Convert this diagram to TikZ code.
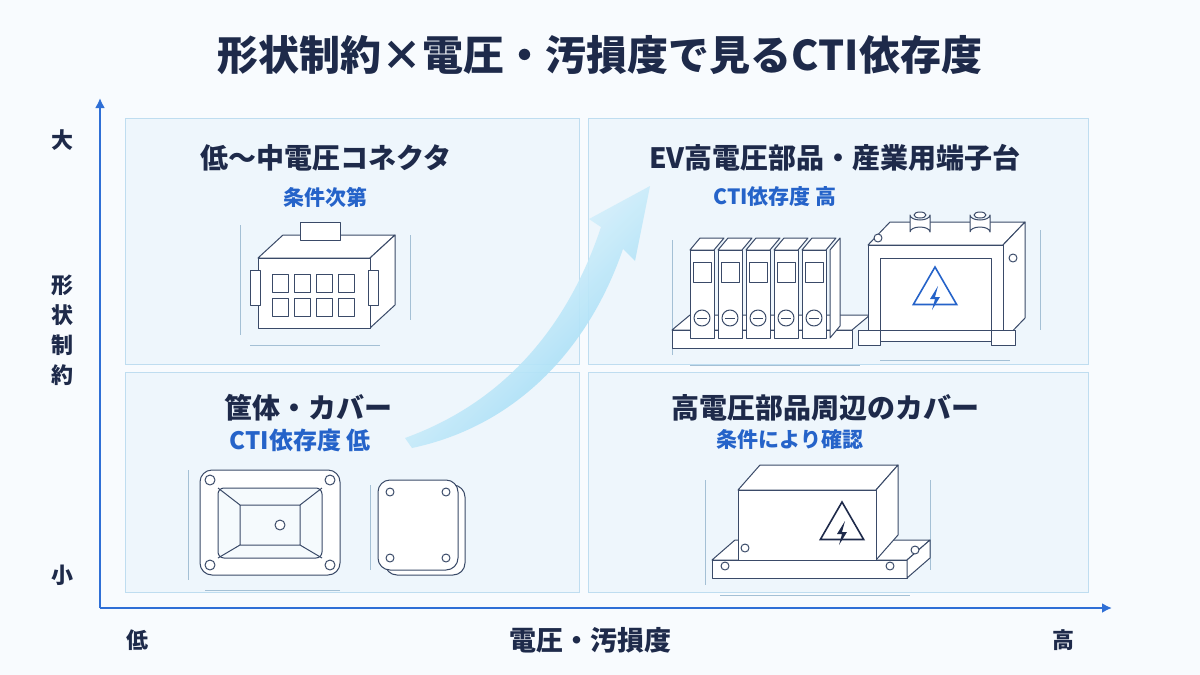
\documentclass[tikz,border=0pt]{standalone}
\usepackage{fontspec}
\setmainfont{Noto Sans CJK JP}
\usetikzlibrary{arrows.meta,shapes.geometric}
\definecolor{navy}{HTML}{1E2A4A}
\definecolor{sblue}{HTML}{2563C9}
\definecolor{axc}{HTML}{2F6FD6}
\definecolor{qfill}{HTML}{EEF6FC}
\definecolor{qdraw}{HTML}{BFDDF0}
\definecolor{ink}{HTML}{3A4A68}
\definecolor{bg}{HTML}{F8FBFE}
\definecolor{arr}{HTML}{8FD6F4}
\begin{document}
\begin{tikzpicture}[x=0.5pt,y=-0.5pt,
  quad/.style={draw=qdraw,fill=qfill,line width=0.6pt},
  ttl/.style={text=navy,font=\fontsize{14}{16}\selectfont\bfseries},
  sub/.style={text=sblue,font=\fontsize{10.5}{12}\selectfont\bfseries},
  axl/.style={text=navy,font=\fontsize{11}{13}\selectfont\bfseries},
  ax/.style={draw=axc,line width=1.2pt,-{Latex[length=5pt,width=5pt]}},
  ill/.style={draw=ink,line width=0.5pt,fill=white,line join=round},
  iln/.style={draw=ink,line width=0.5pt,line join=round},
  dim/.style={draw=qdraw!80!ink,line width=0.3pt},
  bolt/.pic={\fill[#1] (3,-12) -- (-5,1) -- (0,1) -- (-3,12) -- (5,-1) -- (0,-1) -- cycle;}]
\useasboundingbox (0,0) rectangle (1200,675);
\fill[bg] (0,0) rectangle (1200,675);
% title
\node[text=navy,font=\fontsize{20.5}{24}\selectfont\bfseries] (title) at (600,55) {形状制約×電圧・汚損度で見るCTI依存度};
% quadrants
\node[quad,minimum width=227pt,minimum height=123pt,anchor=north west] (q1) at (125,118) {};
\node[quad,minimum width=250pt,minimum height=123pt,anchor=north west] (q2) at (588,118) {};
\node[quad,minimum width=227pt,minimum height=110pt,anchor=north west] (q3) at (125,372) {};
\node[quad,minimum width=250pt,minimum height=110pt,anchor=north west] (q4) at (588,372) {};
% axes
\coordinate (o) at (100,608);
\coordinate (yt) at (100,98);
\coordinate (xe) at (1112,608);
\draw[ax] (o) -- (yt);
\draw[ax] (o) -- (xe);
\node[axl] (big) at (62,140) {大};
\node[axl] (small) at (62,575) {小};
\node[axl,align=center,font=\fontsize{11}{15}\selectfont\bfseries] (ylab) at (62,330) {形\\状\\制\\約};
\node[axl] (lo) at (137,640) {低};
\node[axl] (hi) at (1063,640) {高};
\node[axl,font=\fontsize{13.5}{15}\selectfont\bfseries] (xlab) at (590,640) {電圧・汚損度};
% big arrow
\shade[left color=white,right color=arr,opacity=0.9,shading angle=45]
 (405,438) .. controls (510,400) and (570,320) .. (601,227) -- (589,219) -- (650,186) -- (635,261) -- (623,249) .. controls (590,345) and (520,425) .. (412,448) -- cycle;
% quadrant texts
\node[ttl] (t1) at (326,158) {低〜中電圧コネクタ};
\node[sub] (s1) at (325,197) {条件次第};
\node[ttl] (t2) at (835,158) {EV高電圧部品・産業用端子台};
\node[sub] (s2) at (775,197) {CTI依存度 高};
\node[ttl] (t3) at (308,408) {筐体・カバー};
\node[sub,font=\fontsize{12}{14}\selectfont\bfseries] (s3) at (300,440) {CTI依存度 低};
\node[ttl] (t4) at (825,408) {高電圧部品周辺のカバー};
\node[sub] (s4) at (790,440) {条件により確認};
% ---- connector (TL)
\draw[dim] (240,225)--(240,335) (410,235)--(410,320) (250,345)--(380,345);
\draw[ill] (258,258) -- (283,235) -- (395,235) -- (370,258) -- cycle;
\draw[ill] (370,258) -- (395,235) -- (395,305) -- (370,328) -- cycle;
\draw[ill] (258,258) rectangle (370,328);
\draw[ill] (300,222) rectangle (340,240);
\draw[ill] (250,270) rectangle (260,305) (368,270) rectangle (378,305);
\foreach \i in {0,1,2,3}{\foreach \j in {0,1}{
  \draw[ill] (272+\i*22,274+\j*24) rectangle (288+\i*22,292+\j*24);}}
% ---- terminal block (TR)
\draw[dim] (672,240)--(672,355) (690,365)--(860,365);
\draw[ill] (672,330) -- (690,315) -- (870,315) -- (852,330) -- cycle;
\draw[ill] (672,330) rectangle (852,348);
\foreach \i in {0,...,4}{
  \draw[ill] (690+\i*28,250) -- (700+\i*28,238) -- (724+\i*28,238) -- (714+\i*28,250) -- cycle;
  \draw[ill] (690+\i*28,250) rectangle (714+\i*28,338);
  \draw[ill] (693+\i*28,262) rectangle (711+\i*28,282);
  \draw[ill] (702+\i*28,318) circle (8);
  \draw[iln] (697+\i*28,318) -- (707+\i*28,318);}
\draw[ill] (830,250) -- (840,238) -- (840,326) -- (830,338) -- cycle;
% ---- junction box (TR)
\draw[dim] (1040,230)--(1040,330) (880,360)--(1010,360);
\draw[ill] (868,245) -- (890,222) -- (1025,222) -- (1003,245) -- cycle;
\draw[ill] (1003,245) -- (1025,222) -- (1025,318) -- (1003,341) -- cycle;
\draw[ill] (868,245) rectangle (1003,341);
\draw[ill] (880,258) rectangle (991,330);
\foreach \cx in {920,980}{
  \draw[ill] (\cx-10,232) -- (\cx-10,215) arc[start angle=180,end angle=0,x radius=10,y radius=5] -- (\cx+10,232) arc[start angle=0,end angle=-180,x radius=10,y radius=5];
  \draw[ill] (\cx,215) ellipse (6 and 3);}
\draw[ill] (858,330) rectangle (880,345) (991,330) rectangle (1015,345);
\draw[ill] (878,238) circle (4) (1013,258) circle (4);
\node[regular polygon,regular polygon sides=3,draw=sblue,line width=0.8pt,minimum size=25pt,inner sep=0pt] (w1) at (935,292) {};
\pic at (935,298) {bolt=sblue};
% ---- open box (BL)
\draw[dim] (188,470)--(188,580) (205,590)--(340,590);
\draw[ill,rounded corners=6pt] (200,470) rectangle (340,575);
\draw[ill,rounded corners=3pt,fill=qfill!60] (218,488) rectangle (322,558);
\draw[iln] (218,488) -- (240,505) -- (300,505) -- (322,488) (240,505) -- (240,545) -- (218,558) (300,505) -- (300,545) -- (322,558) (240,545)--(300,545);
\draw[ill] (280,525) circle (5);
\foreach \p in {(210,480),(330,480),(210,565),(330,565)} \draw[ill] \p circle (5);
% ---- lid (BL)
\draw[dim] (370,485)--(370,570);
\draw[ill,rounded corners=6pt] (385,485) rectangle (465,575);
\draw[ill,rounded corners=6pt] (378,480) rectangle (458,570);
\foreach \p in {(390,492),(446,492),(390,558),(446,558)} \draw[ill] \p circle (4);
% ---- cover (BR)
\draw[dim] (705,480)--(705,585) (930,480)--(930,570) (720,595)--(910,595);
\draw[ill] (712,560) -- (735,540) -- (930,540) -- (907,560) -- cycle;
\draw[ill] (712,560) rectangle (907,578);
\draw[ill] (907,560) -- (930,540) -- (930,558) -- (907,578) -- cycle;
\draw[ill] (738,490) -- (760,465) -- (898,465) -- (876,490) -- cycle;
\draw[ill] (876,490) -- (898,465) -- (898,535) -- (876,560) -- cycle;
\draw[ill] (738,490) rectangle (876,560);
\foreach \p in {(725,566),(745,548),(890,566),(915,550)} \draw[ill] \p circle (4);
\node[regular polygon,regular polygon sides=3,draw=navy,line width=0.8pt,minimum size=25pt,inner sep=0pt] (w2) at (842,527) {};
\pic at (842,533) {bolt=navy};
\end{tikzpicture}
\end{document}
